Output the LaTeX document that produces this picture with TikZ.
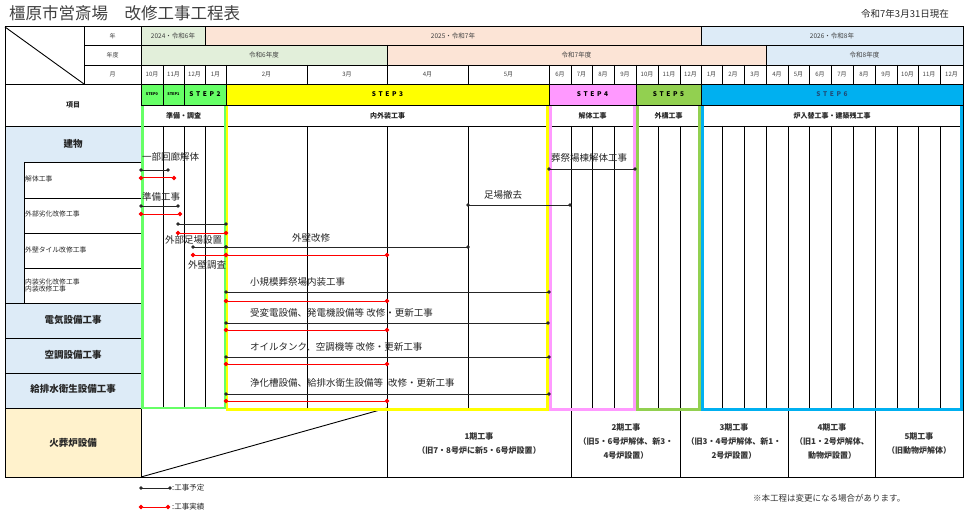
\documentclass[tikz,border=0pt]{standalone}
\usepackage{fontspec}
\setmainfont{Noto Sans CJK JP}
\usepackage{tikz}
\usetikzlibrary{arrows.meta}

\definecolor{yrgreen}{HTML}{E2EFDA}
\definecolor{yrpeach}{HTML}{FCE4D6}
\definecolor{yrblue}{HTML}{DDEBF7}
\definecolor{itemblue}{HTML}{DDEBF7}
\definecolor{itemorange}{HTML}{FFF2CC}
\definecolor{stepgreen}{HTML}{66FF66}
\definecolor{stepyellow}{HTML}{FFFF00}
\definecolor{steppink}{HTML}{FF99FF}
\definecolor{stepolive}{HTML}{92D050}
\definecolor{stepblue}{HTML}{00B0F0}
\definecolor{stepnavy}{HTML}{1F4E79}

\newcommand{\stp}[1]{S\hspace{2.6pt}T\hspace{2.6pt}E\hspace{2.6pt}P\hspace{2.6pt}#1}
\newcommand{\ganttbar}[5]{% style, name, y, x1, x2
  \coordinate (#2-a) at (#4,#3);
  \coordinate (#2-b) at (#5,#3);
  \draw[#1] (#2-a) -- (#2-b);}

\begin{document}
\begin{tikzpicture}[x=1pt,y=-1pt,
    cellt/.style={font=\fontsize{6}{7}\selectfont,text=black!75,inner sep=0pt},
    hdt/.style={font=\bfseries\fontsize{7}{8}\selectfont,text=black!85,inner sep=0pt},
    bigt/.style={font=\bfseries\fontsize{9.5}{11}\selectfont,text=black!85,inner sep=0pt},
    bart/.style={font=\fontsize{9.5}{11}\selectfont,text=black!85,anchor=west,inner sep=0pt},
    itemt/.style={font=\fontsize{6.8}{7.5}\selectfont,text=black!85,anchor=west,inner sep=0pt,align=left},
    phaset/.style={font=\bfseries\fontsize{8}{14}\selectfont,text=black!80,align=center,inner sep=0pt},
    stepcell/.style={draw=black,line width=0.8pt,inner sep=0pt,minimum height=21pt,
      font=\bfseries\fontsize{6.5}{7}\selectfont},
    stepframe/.style={line width=2.2pt},
    planbar/.style={line width=0.9pt,black!85,{Circle[length=3.4pt]}-{Circle[length=3.4pt]},
      shorten <=-1.7pt,shorten >=-1.7pt},
    donebar/.style={line width=1pt,red,{Circle[length=4.4pt]}-{Circle[length=4.4pt]},
      shorten <=-2.2pt,shorten >=-2.2pt},
  ]
    \useasboundingbox (0,0) rectangle (971,513);

    % title
    \node[anchor=west,font=\fontsize{16.5}{18}\selectfont,text=black!75,inner sep=0pt] (title) at (9,13) {橿原市営斎場　改修工事工程表};
    \node[anchor=east,font=\fontsize{9.5}{11}\selectfont,text=black!85,inner sep=0pt] (date) at (949,14) {令和7年3月31日現在};

    % fills
    \fill[yrgreen] (141,27) rectangle (205,45);
    \fill[yrpeach] (205,27) rectangle (701,45);
    \fill[yrblue] (701,27) rectangle (963,45);
    \fill[yrgreen] (141,45) rectangle (387,65);
    \fill[yrpeach] (387,45) rectangle (766,65);
    \fill[yrblue] (766,45) rectangle (963,65);
    \fill[itemblue] (5,126) rectangle (141,408);
    \fill[white] (24,162) rectangle (141,303);
    \fill[itemorange] (5,408) rectangle (141,477);

    % table lines
    \draw[line width=1pt] (5,27) rectangle (963,477);
    \draw[line width=0.9pt] (5,27) -- (84,84);
    \draw[line width=0.9pt] (84,27) -- (84,84);
    \draw[line width=0.9pt] (141,27) -- (141,477);
    \draw[line width=0.9pt] (84,45) -- (963,45) (84,65) -- (963,65);
    \draw[line width=0.9pt] (5,84) -- (963,84) (141,105) -- (963,105) (5,126) -- (963,126);
    \draw[line width=0.9pt] (5,408) -- (963,408);
    \draw[line width=0.9pt] (205,27) -- (205,45) (701,27) -- (701,45);
    \draw[line width=0.9pt] (387,45) -- (387,65) (766,45) -- (766,65);
    \draw[line width=0.9pt] (24,162) -- (24,303);
    \foreach \y in {162,198,233,268} {
        \draw[line width=0.9pt] (24,\y) -- (141,\y);
    }
    \foreach \y in {303,338,373} {
        \draw[line width=0.9pt] (5,\y) -- (141,\y);
    }
    \foreach \x in {387,571,680,788,875} {
        \draw[line width=0.9pt] (\x,408) -- (\x,477);
    }
    \draw[line width=0.9pt] (141,477) -- (387,408);

    % months
    \foreach \a/\b/\m [count=\i] in {141/163/10,163/184/11,184/205/12,205/226/1,226/307/2,307/387/3,
        387/468/4,468/549/5,549/571/6,571/592/7,592/614/8,614/636/9,636/658/10,658/680/11,680/701/12,
        701/722/1,722/744/2,744/766/3,766/788/4,788/809/5,809/831/6,831/853/7,853/875/8,875/897/9,
        897/918/10,918/940/11,940/963/12} {
        \node[cellt] (mon\i) at ({(\a+\b)/2},74.5) {\m 月};
        \draw[line width=0.9pt] (\a,65) -- (\a,84) (\a,126) -- (\a,408);
    }

    % header labels
    \node[cellt] (hyear) at (112.5,36) {年};
    \node[cellt] (hfy) at (112.5,55) {年度};
    \node[cellt] (hmon) at (112.5,74.5) {月};
    \node[cellt,font=\fontsize{6.5}{7}\selectfont] (y24) at (173,36) {2024・令和6年};
    \node[cellt,font=\fontsize{6.5}{7}\selectfont] (y25) at (453,36) {2025・令和7年};
    \node[cellt,font=\fontsize{6.5}{7}\selectfont] (y26) at (832,36) {2026・令和8年};
    \node[cellt,font=\fontsize{6.5}{7}\selectfont] (fy6) at (264,55) {令和6年度};
    \node[cellt,font=\fontsize{6.5}{7}\selectfont] (fy7) at (576.5,55) {令和7年度};
    \node[cellt,font=\fontsize{6.5}{7}\selectfont] (fy8) at (864.5,55) {令和8年度};

    % steps
    \node[stepcell,fill=stepgreen,minimum width=22pt,font=\bfseries\fontsize{3.8}{4}\selectfont] (s0) at (152,94.5) {STEP0};
    \node[stepcell,fill=stepgreen,minimum width=21pt,font=\bfseries\fontsize{3.8}{4}\selectfont] (s1) at (173.5,94.5) {STEP1};
    \node[stepcell,fill=stepgreen,minimum width=42pt] (s2) at (205,94.5) {\stp{2}};
    \node[stepcell,fill=stepyellow,minimum width=323pt] (s3) at (387.5,94.5) {\stp{3}};
    \node[stepcell,fill=steppink,minimum width=87pt] (s4) at (592.5,94.5) {\stp{4}};
    \node[stepcell,fill=stepolive,minimum width=65pt] (s5) at (668.5,94.5) {\stp{5}};
    \node[stepcell,fill=stepblue,minimum width=262pt,text=stepnavy] (s6) at (832,94.5) {\stp{6}};

    \node[hdt] (t2) at (183.5,115.5) {準備・調査};
    \node[hdt] (t3) at (387.5,115.5) {内外装工事};
    \node[hdt] (t4) at (592.5,115.5) {解体工事};
    \node[hdt] (t5) at (668.5,115.5) {外構工事};
    \node[hdt] (t6) at (832,115.5) {炉入替工事・建築残工事};

    \draw[stepframe,stepgreen] (142.5,106) -- (142.5,408) -- (225,408) -- (225,106);
    \draw[stepframe,stepyellow] (227,106) -- (227,409.5) -- (547.5,409.5) -- (547.5,106);
    \draw[stepframe,steppink] (550.5,106) -- (550.5,409.5) -- (634.5,409.5) -- (634.5,106);
    \draw[stepframe,stepolive] (637.5,106) -- (637.5,409.5) -- (699.5,409.5) -- (699.5,106);
    \draw[stepframe,stepblue] (702.5,106) -- (702.5,409.5) -- (961.5,409.5) -- (961.5,106);

    % items
    \node[hdt] (koumoku) at (73,105) {項目};
    \node[bigt] (tatemono) at (73,144) {建物};
    \node[itemt] (i1) at (25,179) {解体工事};
    \node[itemt] (i2) at (25,214) {外部劣化改修工事};
    \node[itemt] (i3) at (25,250) {外壁タイル改修工事};
    \node[itemt] (i4) at (25,285.5) {内装劣化改修工事\\内装改修工事};
    \node[bigt] (denki) at (73,320) {電気設備工事};
    \node[bigt] (kucho) at (73,355) {空調設備工事};
    \node[bigt] (kyuhai) at (73,389) {給排水衛生設備工事};
    \node[bigt] (kaso) at (73,443) {火葬炉設備};

    % phases
    \node[phaset] (p1) at (479,443) {1期工事\\（旧7・8号炉に新5・6号炉設置）};
    \node[phaset] (p2) at (626,441) {2期工事\\（旧5・6号炉解体、新3・\\4号炉設置）};
    \node[phaset] (p3) at (734,441) {3期工事\\（旧3・4号炉解体、新1・\\2号炉設置）};
    \node[phaset] (p4) at (832,441) {4期工事\\（旧1・2号炉解体、\\動物炉設置）};
    \node[phaset] (p5) at (919,443) {5期工事\\（旧動物炉解体）};

    % bars
    \ganttbar{planbar}{kaiso}{170}{141}{168}
    \ganttbar{donebar}{kaisoR}{178}{141}{174}
    \ganttbar{planbar}{junbi}{206}{141}{178}
    \ganttbar{donebar}{junbiR}{214}{141}{180}
    \ganttbar{planbar}{ashiba}{224}{178}{226}
    \ganttbar{donebar}{ashibaR}{233}{178}{226}
    \ganttbar{planbar}{chosa}{247}{193}{226}
    \ganttbar{planbar}{gaiheki}{247}{226}{468}
    \ganttbar{donebar}{chosaR}{255}{193}{226}
    \ganttbar{donebar}{gaihekiR}{255}{226}{387}
    \ganttbar{planbar}{tekkyo}{205}{468}{570}
    \ganttbar{planbar}{kaitai}{169}{549}{635}
    \ganttbar{planbar}{naiso}{292}{226}{549}
    \ganttbar{donebar}{naisoR}{301}{226}{387}
    \ganttbar{planbar}{juhen}{323}{226}{548}
    \ganttbar{donebar}{juhenR}{330}{226}{387}
    \ganttbar{planbar}{oil}{357}{226}{549}
    \ganttbar{donebar}{oilR}{364}{226}{387}
    \ganttbar{planbar}{joka}{394}{226}{549}
    \ganttbar{donebar}{jokaR}{401}{226}{387}

    \node[bart] (l1) at (142,157) {一部回廊解体};
    \node[bart] (l2) at (142,197) {準備工事};
    \node[bart] (l3) at (165,240) {外部足場設置};
    \node[bart] (l4) at (188,265) {外壁調査};
    \node[bart] (l5) at (292,238) {外壁改修};
    \node[bart] (l6) at (484,195) {足場撤去};
    \node[bart] (l7) at (551,158) {葬祭場棟解体工事};
    \node[bart] (l8) at (250,282) {小規模葬祭場内装工事};
    \node[bart] (l9) at (250,313) {受変電設備、発電機設備等\ 改修・更新工事};
    \node[bart] (l10) at (250,347) {オイルタンク、空調機等\ 改修・更新工事};
    \node[bart] (l11) at (250,383) {浄化槽設備、給排水衛生設備等\hspace{5pt}改修・更新工事};

    % legend
    \ganttbar{planbar}{legP}{488}{141}{170}
    \ganttbar{donebar}{legR}{507}{141}{168}
    \node[itemt,font=\fontsize{7.5}{8}\selectfont] (legPt) at (172,488) {:工事予定};
    \node[itemt,font=\fontsize{7.5}{8}\selectfont] (legRt) at (172,507) {:工事実績};
    \node[itemt,font=\fontsize{8.5}{9}\selectfont,text=black!80] (note) at (753,498) {※本工程は変更になる場合があります。};
\end{tikzpicture}
\end{document}
